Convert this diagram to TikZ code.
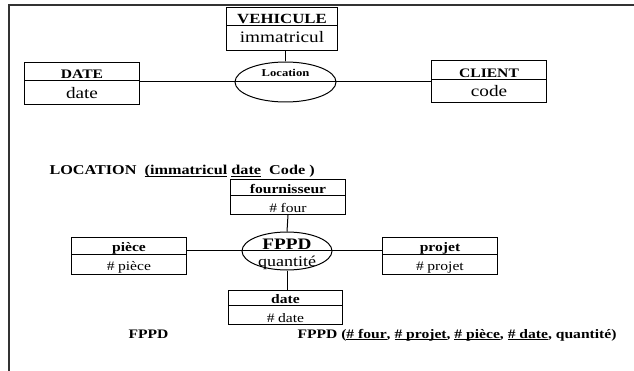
\documentclass[tikz,border=0pt]{standalone}
\usepackage{fontspec}
\setmainfont{Liberation Serif}[FakeStretch=1.2]
\usetikzlibrary{shapes.geometric, shapes.multipart}
\newcommand{\fsz}[1]{\fontsize{#1}{#1}\selectfont}
\newcommand{\partht}[2]{\rule[-#2pt]{0pt}{#1pt}}
\newcommand{\ulin}[1]{\setbox0\hbox{#1}\rlap{\rule[-2pt]{\wd0}{0.9pt}}\box0\relax}

\begin{document}
\begin{tikzpicture}[x=1pt, y=-1pt, line width=1pt,
		entity/.style={draw, rectangle split, rectangle split parts=2,
			inner xsep=0pt, inner ysep=0pt, align=center, anchor=north west},
		rel/.style={draw, ellipse, inner sep=0pt},
		lbl/.style={anchor=base, inner sep=0pt}]
		
		\useasboundingbox (0,0) rectangle (634,371);
		\draw[line width=1.3pt, black!80] (9,371) -- (9,5) -- (634,5);
		
		\node[entity, text width=111pt] (veh) at (226,7)
		{\fsz{14}\textbf{VEHICULE}\partht{17}{1.5}\nodepart{two}\fsz{16}immatricul\partht{24}{7}};
		\node[entity, text width=115pt] (dte) at (24,62)
		{\fsz{13}\textbf{DATE}\partht{17}{1.5}\nodepart{two}\fsz{16}date\partht{23}{5}};
		\node[entity, text width=115pt] (cli) at (431,60)
		{\fsz{13}\textbf{CLIENT}\partht{18}{1.5}\nodepart{two}\fsz{16}code\partht{22}{5}};
		
		\node[rel, minimum width=101pt, minimum height=40pt] (loc) at (285.5,82) {};
		\node[lbl, font=\fsz{10.5}\bfseries] (loclbl) at (285.5,77) {Location};
		\draw (loc.west) -- (loc.east);
		
		\draw (loc.north) -- (loc.north |- veh.south);
		\draw (dte.east |- loc.west) -- (loc.west);
		\draw (loc.east) -- (loc.east -| cli.west);
		
		\node[lbl, anchor=base west, font=\fsz{13.5}\bfseries] (locrel) at (49,175)
		{LOCATION \ \ulin{(immatricul} \ulin{date} \ Code )};
		
		\node[entity, text width=115pt] (fou) at (230,179)
		{\fsz{13}\textbf{fournisseur}\partht{15}{1.5}\nodepart{two}\fsz{13}\# four\partht{18}{1.5}};
		\node[entity, text width=115pt] (pie) at (71,237)
		{\fsz{13}\textbf{pièce}\partht{15}{1.5}\nodepart{two}\fsz{13}\# pièce\partht{17}{1.5}};
		\node[entity, text width=115pt] (pro) at (382,237)
		{\fsz{13}\textbf{projet}\partht{15}{1.5}\nodepart{two}\fsz{13}\# projet\partht{17}{1.5}};
		\node[entity, text width=114pt] (dt) at (228,290)
		{\fsz{13}\textbf{date}\partht{14}{1.5}\nodepart{two}\fsz{13}\# date\partht{18}{1.5}};
		
		\node[rel, minimum width=90pt, minimum height=38pt] (fppd) at (287,251) {};
		\node[lbl, font=\fsz{16}\bfseries] (fppdlbl) at (287,249.5) {FPPD};
		\node[lbl, font=\fsz{15}] (qte) at (287,266) {quantité};
		\draw (fppd.west) -- (fppd.east);
		
		\draw (fou.south) -- (fppd.north);
		\draw (fppd.south) -- (fppd.south |- dt.north);
		\draw (pie.east |- fppd.west) -- (fppd.west);
		\draw (fppd.east) -- (fppd.east -| pro.west);
		
		\node[lbl, anchor=base west, font=\fsz{13}\bfseries] (fppdname) at (128,338) {FPPD};
		\node[lbl, anchor=base west, font=\fsz{13}\bfseries] (fppdrel) at (297,338)
		{FPPD (\ulin{\# four}, \ulin{\# projet}, \ulin{\# pièce}, \ulin{\# date}, quantité)};
		
	\end{tikzpicture}
\end{document}
